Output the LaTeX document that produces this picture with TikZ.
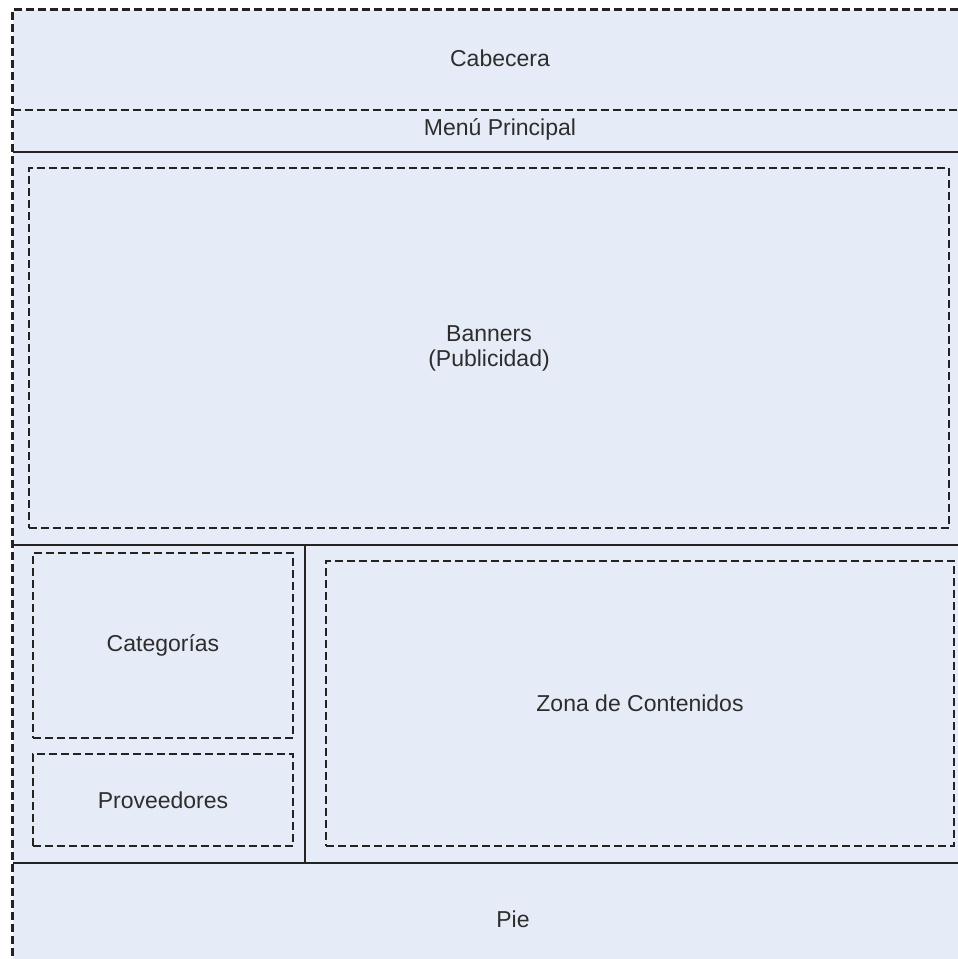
\documentclass[tikz,border=0pt]{standalone}
\usepackage{fontspec}
\setmainfont{Liberation Sans}
\definecolor{zonefill}{RGB}{230,236,247}
\definecolor{linegray}{RGB}{35,35,35}
\definecolor{textgray}{RGB}{45,45,45}

\begin{document}
\begin{tikzpicture}[x=0.5pt,y=-0.5pt,
    every node/.style={font=\fontsize{11.5}{12.5}\selectfont, text=textgray, align=center, inner sep=0pt, outer sep=0pt},
    zone/.style={draw=linegray, line width=1.2pt, dash pattern=on 4pt off 2pt},
    divider/.style={draw=linegray, line width=1.2pt},
    caption/.style={text height=8.2pt, text depth=0pt}]
            \useasboundingbox (0,0) rectangle (958,959);
            \clip (0,0) rectangle (958,959);

            % page frame, cut at the right and the bottom
            \fill[zonefill] (12.5,9.5) rectangle (980,980);
            \draw[zone] (12.5,980) -- (12.5,9.5) -- (980,9.5);
            \draw[zone] (12.5,110) -- (980,110);
            \draw[divider] (12.5,152) -- (980,152);
            \draw[divider] (12.5,545) -- (980,545);
            \draw[divider] (12.5,863) -- (980,863);
            \draw[divider] (305,545) -- (305,863);

            \node[caption] (cabecera) at (500,58){Cabecera};
            \node[caption] (menu) at (500,127){Menú Principal};
            \node[caption] (pie) at (513,919){Pie};

            \node[zone, minimum width=460pt, minimum height=180pt] (banners) at (489,348){Banners\\(Publicidad)};
            \node[zone, minimum width=130pt, minimum height=92.5pt] (categorias) at (163,645.5){Categorías};
            \node[zone, minimum width=130pt, minimum height=46pt] (proveedores) at (163,800){Proveedores};
            \node[zone, minimum width=314pt, minimum height=142.5pt] (contenidos) at (640,703.5){Zona de Contenidos};
        \end{tikzpicture}
\end{document}
